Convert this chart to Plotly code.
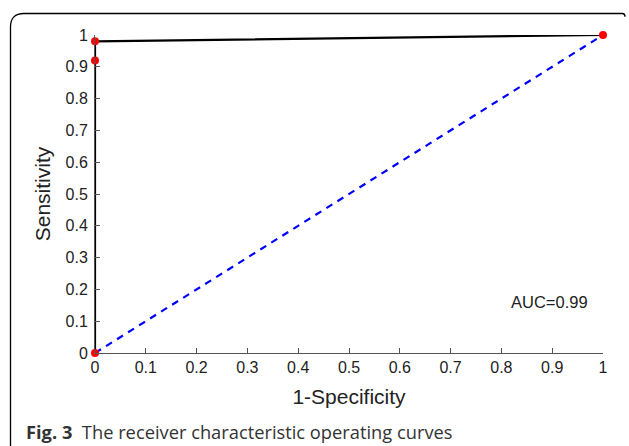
import plotly.graph_objects as go

# Data
fpr = [0, 0, 0, 1]
tpr = [0, 0.92, 0.98, 1]
chance_x = [0, 1]
chance_y = [0, 1]
tick_vals = [0, 0.1, 0.2, 0.3, 0.4, 0.5, 0.6, 0.7, 0.8, 0.9, 1]
tick_text = ["0", "0.1", "0.2", "0.3", "0.4", "0.5", "0.6", "0.7", "0.8", "0.9", "1"]
auc_label = "AUC=0.99"
x_title = "1-Specificity"
y_title = "Sensitivity"
caption = "<b>Fig. 3</b>  The receiver characteristic operating curves"

W, H = 629, 446
L, R, T, B = 95, 26, 35, 93
pw, ph = W - L - R, H - T - B

def px(x):
    return (x - L) / pw

def py(y):
    return (H - B - y) / ph

fig = go.Figure()
fig.add_trace(go.Scatter(x=chance_x, y=chance_y, mode="lines",
                         line=dict(color="#0000ff", width=2.2, dash="7px,6px"),
                         cliponaxis=False, showlegend=False))
fig.add_trace(go.Scatter(x=fpr, y=tpr, mode="lines",
                         line=dict(color="black", width=2.2),
                         cliponaxis=False, showlegend=False))
fig.add_trace(go.Scatter(x=fpr, y=tpr, mode="markers",
                         marker=dict(color="#ff0000", size=8),
                         cliponaxis=False, showlegend=False))

axis_common = dict(
    range=[0, 1], tickvals=tick_vals, ticktext=tick_text,
    ticks="inside", ticklen=5, tickcolor="#555555",
    showline=True, linecolor="#555555", linewidth=1,
    showgrid=False, zeroline=False,
    tickfont=dict(family="Liberation Sans, Arial", size=16, color="#222222"),
)

fig.update_layout(
    width=W, height=H,
    margin=dict(l=L, r=R, t=T, b=B),
    paper_bgcolor="white", plot_bgcolor="white",
    xaxis=dict(**axis_common,
               title=dict(text=x_title, standoff=14,
                          font=dict(family="Liberation Sans, Arial", size=21, color="#222222"))),
    yaxis=dict(**axis_common, ticklabelstandoff=3,
               title=dict(text=y_title, standoff=9,
                          font=dict(family="Liberation Sans, Arial", size=21, color="#222222"))),
)

fig.add_annotation(x=0.894, y=0.16, xref="x", yref="y", text=auc_label,
                   showarrow=False,
                   font=dict(family="Liberation Sans, Arial", size=16.5, color="#222222"))

fig.add_annotation(x=px(24), y=py(431), xref="paper", yref="paper", text=caption,
                   showarrow=False, xanchor="left", yanchor="middle",
                   font=dict(family="Open Sans, Noto Sans", size=18.3, color="#333333"))

# Frame around figure (rounded top-left corner)
x0, x1 = px(10.5), px(625)
yt, yb = py(13.5), py(452)
r_x, r_y = px(24) - px(10.5), py(13.5) - py(27)
path = (f"M {x0},{yb} L {x0},{yt - r_y} Q {x0},{yt} {x0 + r_x},{yt} "
        f"L {x1 - 0.005},{yt} Q {x1},{yt} {x1},{yt - 0.01}")
fig.add_shape(type="path", path=path, xref="paper", yref="paper",
              line=dict(color="black", width=1.3), layer="below")

fig.write_html("out.html", config={"displayModeBar": False},
               post_script="document.body.style.margin='0';document.body.style.overflow='hidden';")
